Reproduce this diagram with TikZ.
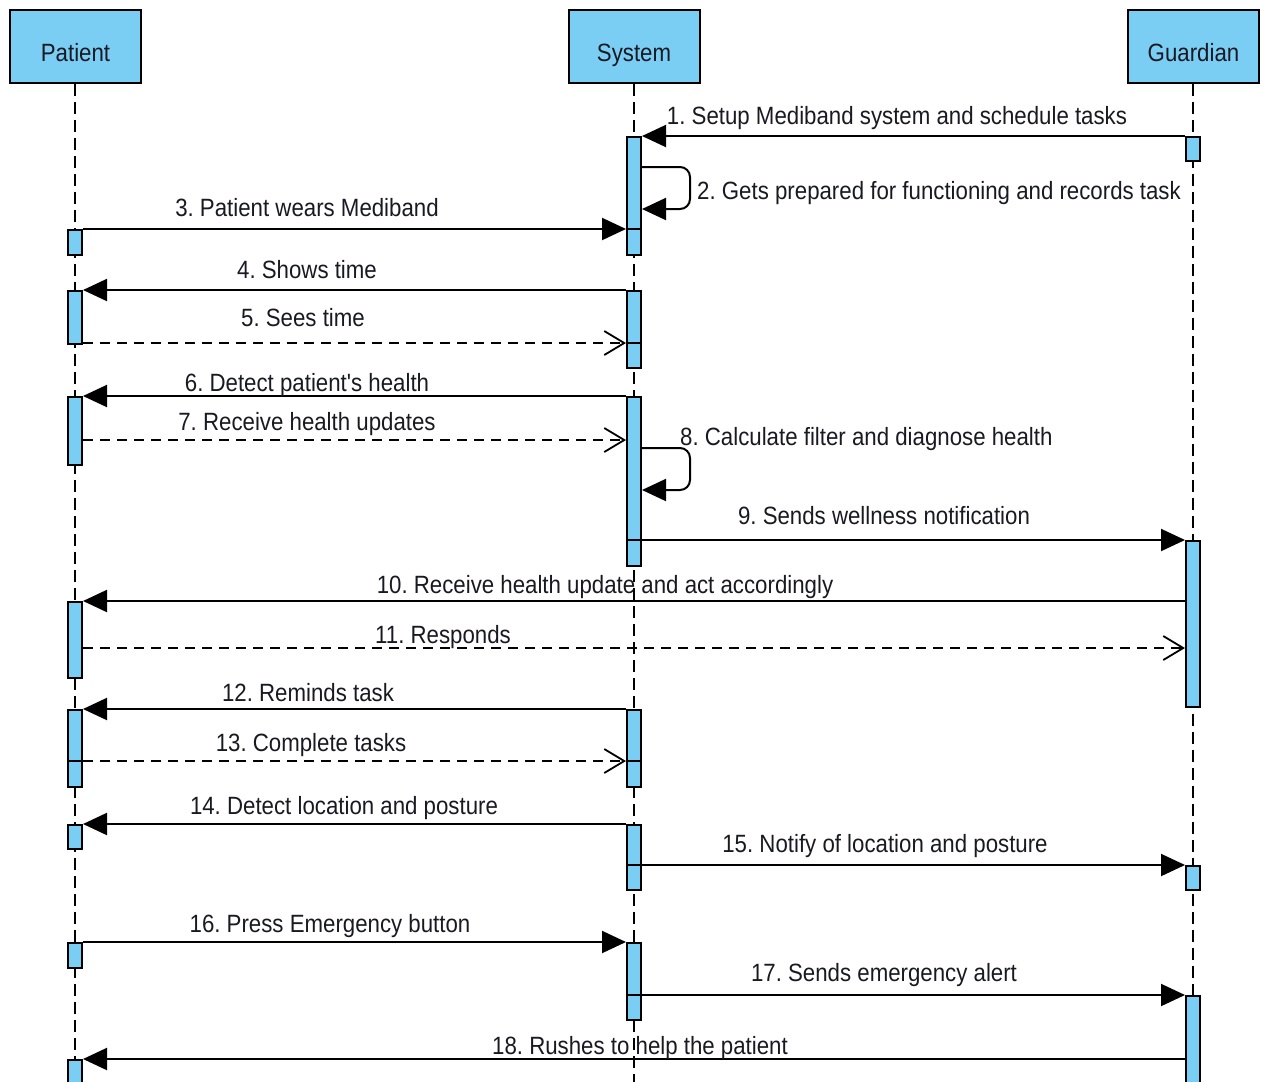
\documentclass[tikz,border=0pt]{standalone}
\usepackage{fontspec}
\setmainfont{Liberation Sans}[FakeStretch=0.89, Ligatures=TeXOff]
\usetikzlibrary{arrows.meta,calc}
\definecolor{lblue}{RGB}{122,206,244}
\definecolor{txt}{RGB}{25,25,35}
\frenchspacing
\begin{document}
\begin{tikzpicture}[x=1pt,y=-1pt,
  every node/.style={font=\fontsize{25}{30}\selectfont\frenchspacing, text=txt},
  head/.style={draw, fill=lblue, line width=2pt, minimum width=131pt, minimum height=73pt, inner sep=0pt, text height=29pt, text depth=0pt},
  life/.style={line width=1.5pt, dash pattern=on 12pt off 6pt},
  bar/.style={draw, fill=lblue, line width=2pt, minimum width=14pt, inner sep=0pt, anchor=north},
  msg/.style={line width=2pt, -{Triangle[length=24pt,width=22pt]}},
  rep/.style={line width=1.8pt, dash pattern=on 10pt off 7pt, -{Straight Barb[length=20pt,width=24pt,line width=1.8pt]}},
  lbl/.style={anchor=base, inner sep=0pt},
  lbll/.style={anchor=base west, inner sep=0pt},
  div/.style={line width=2pt}]
\useasboundingbox (0,0) rectangle (1262,1082);
\clip (0,0) rectangle (1262,1082);
% heads
\node[head] (P) at (75.5,46.5) {Patient};
\node[head] (S) at (634,46.5) {System};
\node[head] (G) at (1193.5,46.5) {Guardian};
% lifelines
\coordinate (Pend) at (75,1090);
\coordinate (Send) at (634,1090);
\coordinate (Gend) at (1193,1090);
\draw[life] (P.south -| 75,0) -- (Pend);
\draw[life] (S.south) -- (Send);
\draw[life] (G.south -| 1193,0) -- (Gend);
% activation bars
\newcommand{\mbar}[4]{\node[bar, minimum height=#4-#3] (#1) at (#2,#3) {};}
\mbar{pa1}{75}{229}{254}
\mbar{pa2}{75}{290}{343}
\mbar{pa3}{75}{396}{464}
\mbar{pa4}{75}{601}{677}
\mbar{pa5}{75}{709}{786}
\mbar{pa6}{75}{824}{848}
\mbar{pa7}{75}{942}{967}
\mbar{pa8}{75}{1059}{1100}
\mbar{sy1}{634}{136}{254}
\mbar{sy2}{634}{290}{367}
\mbar{sy3}{634}{396}{565}
\mbar{sy4}{634}{709}{786}
\mbar{sy5}{634}{824}{889}
\mbar{sy6}{634}{942}{1019}
\mbar{gu1}{1193}{136}{160}
\mbar{gu2}{1193}{540}{706}
\mbar{gu3}{1193}{865}{889}
\mbar{gu4}{1193}{995}{1100}
% message levels
\coordinate (y2a) at (0,167); \coordinate (y2b) at (0,209);
\coordinate (y5) at (0,343);
\coordinate (y7) at (0,440);
\coordinate (y8a) at (0,448); \coordinate (y8b) at (0,490);
\coordinate (y11) at (0,648);
\coordinate (y13) at (0,761);
\coordinate (y15) at (0,865);
\coordinate (y17) at (0,995);
% dividers inside bars
\draw[div] (sy1.west |- pa1.north) -- (sy1.east |- pa1.north);
\draw[div] (sy2.west |- y5) -- (sy2.east |- y5);
\draw[div] (sy3.west |- gu2.north) -- (sy3.east |- gu2.north);
\draw[div] (pa5.west |- y13) -- (pa5.east |- y13);
\draw[div] (sy4.west |- y13) -- (sy4.east |- y13);
\draw[div] (sy5.west |- y15) -- (sy5.east |- y15);
\draw[div] (sy6.west |- y17) -- (sy6.east |- y17);
% messages
\draw[msg] (gu1.north west) -- (sy1.north east);
\node[lbl] (l1) at (897,124) {1. Setup Mediband system and schedule tasks};
\draw[msg, rounded corners=10pt] (sy1.east |- y2a) -- (690,167) -- (690,209) -- (sy1.east |- y2b);
\node[lbll] (l2) at (697,199) {2. Gets prepared for functioning and records task};
\draw[msg] (pa1.north east) -- (sy1.west |- pa1.north);
\node[lbl] (l3) at (307,216) {3. Patient wears Mediband};
\draw[msg] (sy2.north west) -- (pa2.north east);
\node[lbl] (l4) at (307,278) {4. Shows time};
\draw[rep] (pa2.east |- y5) -- (sy2.west |- y5);
\node[lbl] (l5) at (303,326) {5. Sees time};
\draw[msg] (sy3.north west) -- (pa3.north east);
\node[lbl] (l6) at (307,391) {6. Detect patient's health};
\draw[rep] (pa3.east |- y7) -- (sy3.west |- y7);
\node[lbl] (l7) at (307,430) {7. Receive health updates};
\draw[msg, rounded corners=10pt] (sy3.east |- y8a) -- (690,448) -- (690,490) -- (sy3.east |- y8b);
\node[lbll] (l8) at (680,445) {8. Calculate filter and diagnose health};
\draw[msg] (sy3.east |- gu2.north) -- (gu2.north west);
\node[lbl] (l9) at (884,524) {9. Sends wellness notification};
\draw[msg] (gu2.west |- pa4.north) -- (pa4.north east);
\node[lbl] (l10) at (605,593) {10. Receive health update and act accordingly};
\draw[rep] (pa4.east |- y11) -- (gu2.west |- y11);
\node[lbl] (l11) at (443,643) {11. Responds};
\draw[msg] (sy4.north west) -- (pa5.north east);
\node[lbl] (l12) at (308,701) {12. Reminds task};
\draw[rep] (pa5.east |- y13) -- (sy4.west |- y13);
\node[lbl] (l13) at (311,751) {13. Complete tasks};
\draw[msg] (sy5.north west) -- (pa6.north east);
\node[lbl] (l14) at (344,814) {14. Detect location and posture};
\draw[msg] (sy5.east |- gu3.north) -- (gu3.north west);
\node[lbl] (l15) at (885,852) {15. Notify of location and posture};
\draw[msg] (pa7.north east) -- (sy6.north west);
\node[lbl] (l16) at (330,932) {16. Press Emergency button};
\draw[msg] (sy6.east |- gu4.north) -- (gu4.north west);
\node[lbl] (l17) at (884,981) {17. Sends emergency alert};
\draw[msg] (gu4.west |- pa8.north) -- (pa8.north east);
\node[lbl] (l18) at (640,1054) {18. Rushes to help the patient};
\end{tikzpicture}
\end{document}
